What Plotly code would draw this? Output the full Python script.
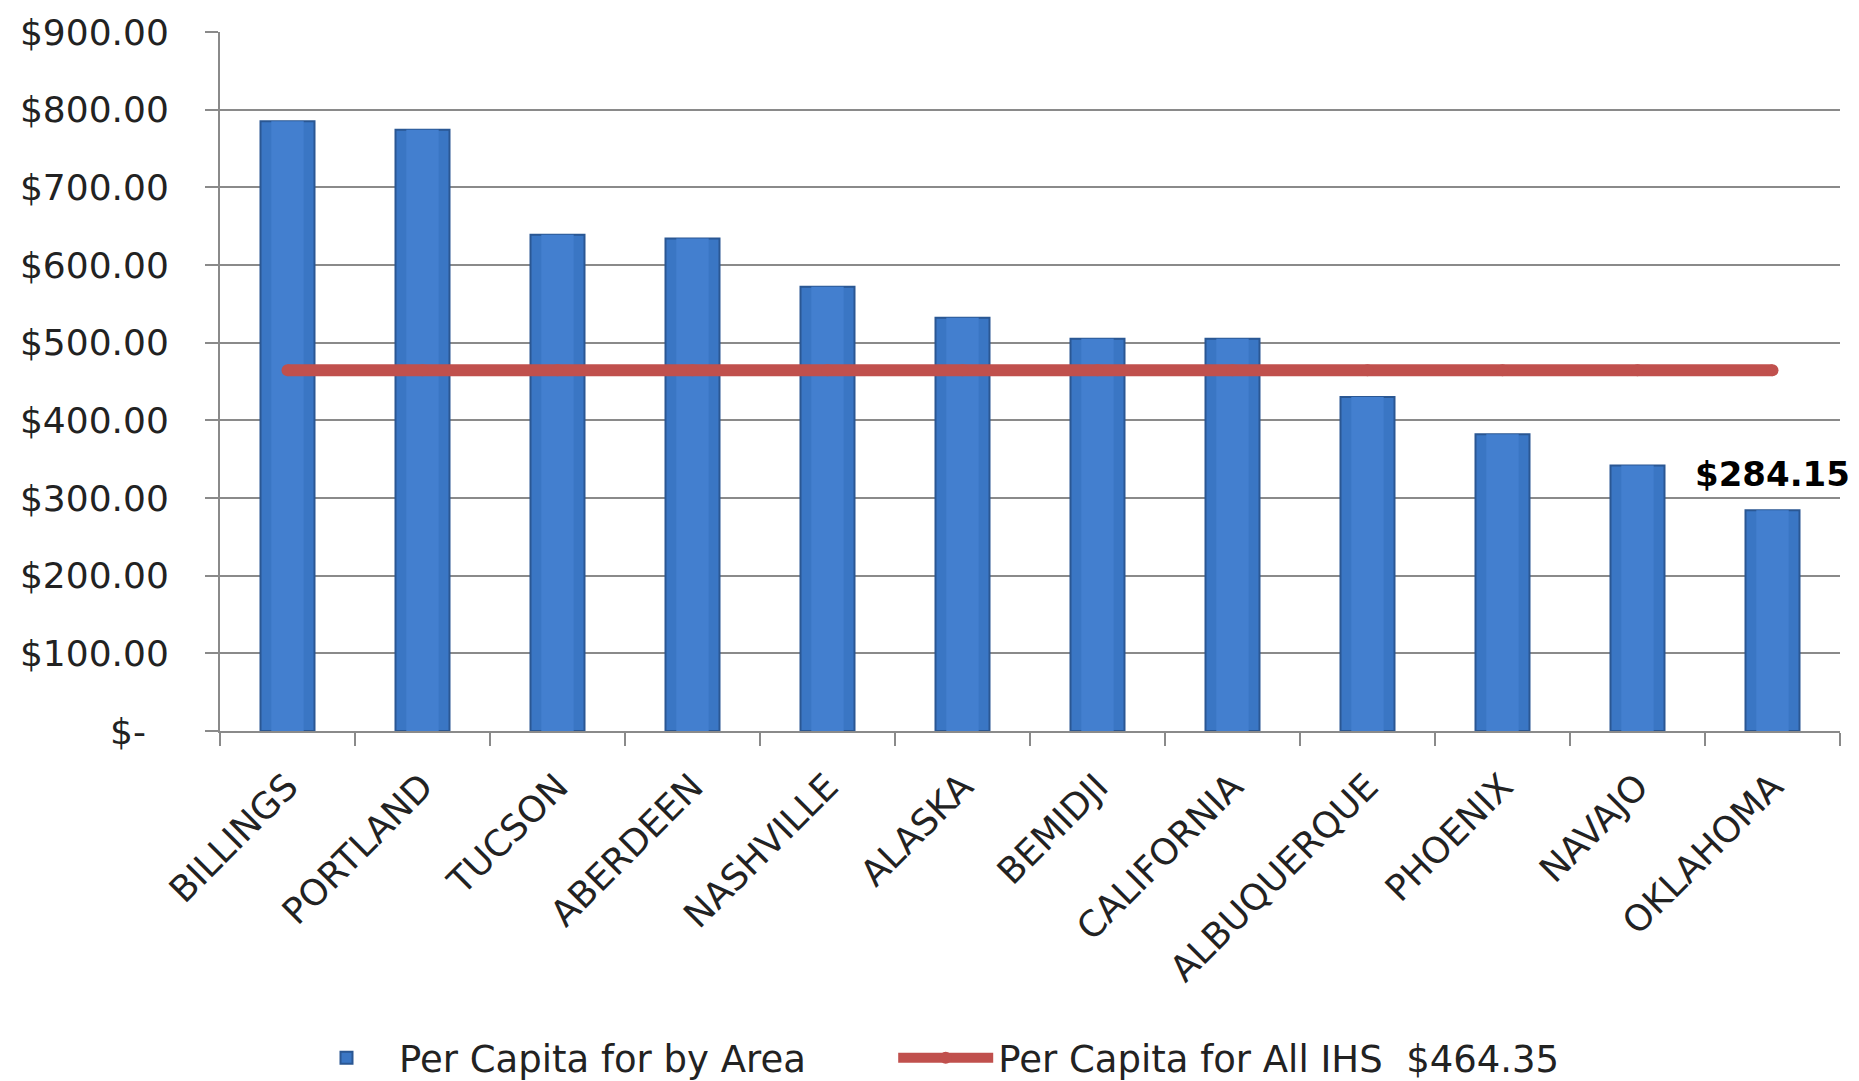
import plotly.graph_objects as go

areas = ["BILLINGS", "PORTLAND", "TUCSON", "ABERDEEN", "NASHVILLE", "ALASKA",
         "BEMIDJI", "CALIFORNIA", "ALBUQUERQUE", "PHOENIX", "NAVAJO", "OKLAHOMA"]
per_capita = [785, 774, 639, 634, 572, 532, 505, 505, 430, 382, 342, 284.15]
ihs_average = 464.35
ihs_line = [ihs_average] * len(areas)

y_tickvals = [0, 100, 200, 300, 400, 500, 600, 700, 800, 900]
y_ticktext = ["$-\u00a0\u00a0", "$100.00", "$200.00", "$300.00", "$400.00", "$500.00",
              "$600.00", "$700.00", "$800.00", "$900.00"]

FONT = "DejaVu Sans"
NBSP = "\u00a0"

fig = go.Figure()
fig.add_trace(go.Bar(
    x=areas, y=per_capita, name="Per Capita for by Area" + NBSP * 7,
    width=0.40,
    marker=dict(color="#3A76C4", line=dict(color="#2A5793", width=2)),
))
fig.add_trace(go.Bar(
    x=areas, y=per_capita, showlegend=False, hoverinfo="skip",
    width=0.24,
    marker=dict(color="#437FCF", line=dict(width=0)),
))
fig.add_trace(go.Scatter(
    x=areas, y=ihs_line, name="Per Capita for All IHS  $464.35",
    mode="lines+markers",
    line=dict(color="#C0504D", width=12),
    marker=dict(color="#C0504D", size=12, line=dict(width=0)),
))

fig.add_annotation(
    x=areas[-1], y=per_capita[-1], text="<b>$284.15</b>",
    showarrow=False, yanchor="bottom", yshift=14,
    font=dict(family=FONT, size=34, color="#000000"),
)

fig.update_layout(
    width=1859, height=1081,
    margin=dict(l=220, r=19, t=30, b=350),
    paper_bgcolor="white", plot_bgcolor="white",
    barmode="overlay",
    font=dict(family=FONT, size=36, color="#222222"),
    showlegend=True,
    legend=dict(
        orientation="h", xref="container", yref="container",
        x=0.5, xanchor="center", y=0.021, yanchor="middle",
        font=dict(family=FONT, size=37, color="#222222"),
        itemwidth=95,
    ),
    xaxis=dict(
        type="category", tickangle=-45, range=[-0.5, len(areas) - 0.5],
        showline=True, linecolor="#8A8A8A", linewidth=2,
        ticks="outside", ticklen=13, tickcolor="#8A8A8A", tickwidth=2,
        tickson="boundaries", showgrid=False,
        tickfont=dict(family=FONT, size=36, color="#222222"),
        ticklabelstandoff=18,
    ),
    yaxis=dict(
        range=[0, 900], tickvals=y_tickvals, ticktext=y_ticktext,
        showline=True, linecolor="#8A8A8A", linewidth=2,
        ticks="outside", ticklen=13, tickcolor="#8A8A8A", tickwidth=2,
        showgrid=True, gridcolor="#8A8A8A", gridwidth=1.5,
        zeroline=False,
        tickfont=dict(family=FONT, size=36, color="#222222"),
        ticklabelstandoff=29,
    ),
)

fig.write_html("out.html")
